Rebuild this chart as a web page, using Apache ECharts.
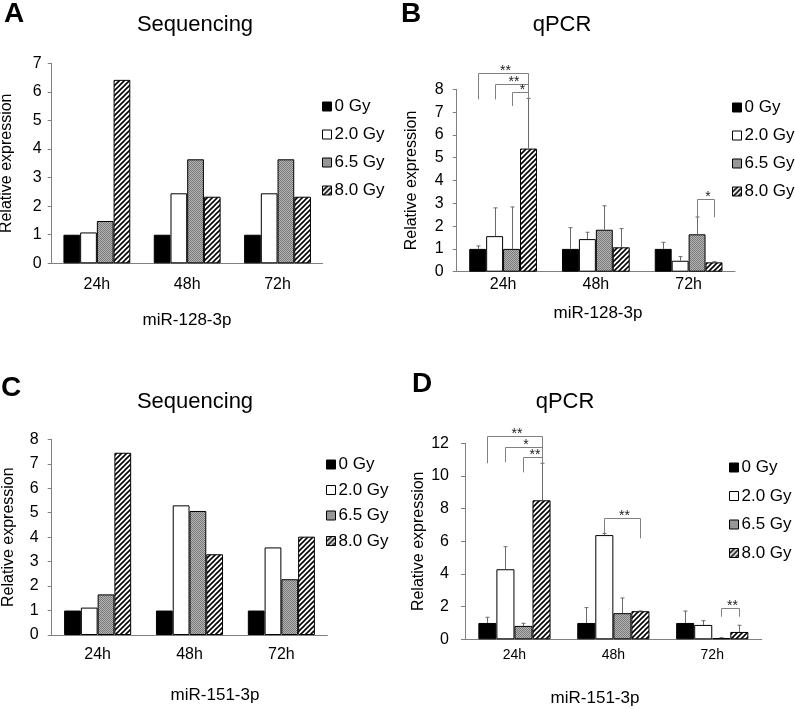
<!DOCTYPE html>
<html><head><meta charset="utf-8">
<script src="https://cdn.jsdelivr.net/npm/echarts@6/dist/echarts.min.js"></script>
<style>html,body{margin:0;padding:0;background:#fff}#c{width:795px;height:709px}</style>
</head><body><div id="c"></div>
<script>
// ---------- DATA ----------
const categories = ['24h', '48h', '72h'];
const doseNames = ['0 Gy', '2.0 Gy', '6.5 Gy', '8.0 Gy'];

// A: Sequencing, miR-128-3p
const seqA_0Gy  = [1.00, 1.00, 1.00];
const seqA_2Gy  = [1.08, 2.45, 2.45];
const seqA_65Gy = [1.48, 3.64, 3.64];
const seqA_8Gy  = [6.42, 2.33, 2.33];

// B: qPCR, miR-128-3p (mean, upper SD)
const qpcrB_0Gy  = [1.00, 1.00, 1.00];
const qpcrB_2Gy  = [1.56, 1.43, 0.48];
const qpcrB_65Gy = [1.00, 1.84, 1.64];
const qpcrB_8Gy  = [5.40, 1.07, 0.41];
const sdB_0Gy  = [0.13, 0.93, 0.29];
const sdB_2Gy  = [1.24, 0.30, 0.18];
const sdB_65Gy = [1.84, 1.05, 0.76];
const sdB_8Gy  = [2.20, 0.82, 0.03];
// significance: [category, fromDose, toDose, level, leftLegEnd, rightLegEnd, stars]
const sigB = [
  [0, 0, 3, 8.70, 7.56, 7.60, 2],
  [0, 1, 3, 8.23, 7.56, 7.60, 2],
  [0, 2, 3, 7.87, 7.27, 7.60, 1],
  [2, 2, 3, 3.19, 2.39, 2.39, 1]
];

// C: Sequencing, miR-151-3p
const seqC_0Gy  = [1.00, 1.00, 1.00];
const seqC_2Gy  = [1.12, 5.30, 3.58];
const seqC_65Gy = [1.66, 5.07, 2.28];
const seqC_8Gy  = [7.45, 3.30, 4.02];

// D: qPCR, miR-151-3p
const qpcrD_0Gy  = [1.00, 1.00, 1.00];
const qpcrD_2Gy  = [4.29, 6.38, 0.88];
const qpcrD_65Gy = [0.82, 1.60, 0.08];
const qpcrD_8Gy  = [8.51, 1.72, 0.45];
const sdD_0Gy  = [0.35, 0.94, 0.73];
const sdD_2Gy  = [1.38, 0.10, 0.26];
const sdD_65Gy = [0.16, 0.93, 0.02];
const sdD_8Gy  = [2.27, 0.02, 0.41];
const sigD = [
  [0, 0, 3, 12.45, 10.78, 10.78, 2],
  [0, 1, 3, 11.76, 10.84, 10.78, 1],
  [0, 2, 3, 11.14, 10.22, 10.78, 2],
  [1, 1, 3, 7.45, 6.49, 6.18, 2],
  [2, 2, 3, 1.90, 1.38, 1.38, 2]
];

const yTicksA = {max: 7, interval: 1};
const yTicksB = {max: 8, interval: 1};
const yTicksC = {max: 8, interval: 1};
const yTicksD = {max: 12, interval: 2};

// ---------- STYLE ----------
const FONT = 'Liberation Sans, Arial, Helvetica, sans-serif';
const AXIS_COLOR = '#808080';

function makeHatch() {
  const c = document.createElement('canvas');
  c.width = 5; c.height = 5;
  const g = c.getContext('2d');
  g.fillStyle = '#fff'; g.fillRect(0, 0, 5, 5);
  g.strokeStyle = '#000'; g.lineWidth = 1.6;
  g.beginPath();
  g.moveTo(-1, 1); g.lineTo(1, -1);
  g.moveTo(0, 5); g.lineTo(5, 0);
  g.moveTo(4, 6); g.lineTo(6, 4);
  g.stroke();
  return c;
}
function makeGray() {
  const c = document.createElement('canvas');
  c.width = 2; c.height = 2;
  const g = c.getContext('2d');
  g.fillStyle = '#b2b2b2'; g.fillRect(0, 0, 2, 2);
  g.fillStyle = '#7c7c7c'; g.fillRect(0, 0, 1, 1); g.fillRect(1, 1, 1, 1);
  return c;
}
const doseStyles = [
  {color: '#000000', borderColor: '#000', borderWidth: 1},
  {color: '#ffffff', borderColor: '#000', borderWidth: 1},
  {color: {image: makeGray(), repeat: 'repeat'}, borderColor: '#000', borderWidth: 1},
  {color: {image: makeHatch(), repeat: 'repeat'}, borderColor: '#000', borderWidth: 1}
];

const panels = [
  {grid: {left: 51.7, top: 63.3, width: 271, height: 200}, yt: yTicksA, gap: 0.26, xMargin: 13, xFont: 16, yMargin: 10, nameGap: 37,
   values: [seqA_0Gy, seqA_2Gy, seqA_65Gy, seqA_8Gy]},
  {grid: {left: 456.7, top: 89.3, width: 278.3, height: 182.4}, yt: yTicksB, gap: 0.27, xMargin: 5, xFont: 16, yMargin: 13, nameGap: 37,
   values: [qpcrB_0Gy, qpcrB_2Gy, qpcrB_65Gy, qpcrB_8Gy], sd: [sdB_0Gy, sdB_2Gy, sdB_65Gy, sdB_8Gy], sig: sigB},
  {grid: {left: 51.7, top: 439.3, width: 275.6, height: 195.7}, yt: yTicksC, gap: 0.27, xMargin: 12, xFont: 16, yMargin: 13, nameGap: 35,
   values: [seqC_0Gy, seqC_2Gy, seqC_65Gy, seqC_8Gy]},
  {grid: {left: 465, top: 443.3, width: 296.7, height: 196}, yt: yTicksD, gap: 0.27, xMargin: 9, xFont: 14, yMargin: 16, nameGap: 38,
   values: [qpcrD_0Gy, qpcrD_2Gy, qpcrD_65Gy, qpcrD_8Gy], sd: [sdD_0Gy, sdD_2Gy, sdD_65Gy, sdD_8Gy], sig: sigD}
];

function errRender(gapFrac) {
  return function (params, api) {
    const cat = api.value(0), si = api.value(1), mean = api.value(2), top = api.value(3);
    const band = api.size([1, 0])[0];
    const bw = band * (1 - gapFrac) / 4;
    const base = api.coord([cat, mean]);
    const tp = api.coord([cat, top]);
    const x = Math.round(base[0] + (si - 1.5) * bw) + 0.5;
    return {type: 'group', children: [
      {type: 'line', shape: {x1: x, y1: base[1], x2: x, y2: tp[1]}, style: {stroke: '#6a6a6a', lineWidth: 1}},
      {type: 'line', shape: {x1: x - 2, y1: tp[1], x2: x + 2, y2: tp[1]}, style: {stroke: '#6a6a6a', lineWidth: 1}}
    ]};
  };
}
function sigRender(gapFrac) {
  return function (params, api) {
    const cat = api.value(0), a = api.value(1), b = api.value(2), lvl = api.value(3);
    const lb = api.value(4), rb = api.value(5), n = api.value(6);
    const band = api.size([1, 0])[0];
    const bw = band * (1 - gapFrac) / 4;
    const c = api.coord([cat, lvl]);
    const xa = Math.round(c[0] + (a - 1.5) * bw) + 0.5, xb = Math.round(c[0] + (b - 1.5) * bw) + 0.5;
    const yl = Math.round(c[1]) + 0.5;
    const ya = api.coord([cat, lb])[1], yb = api.coord([cat, rb])[1];
    return {type: 'group', children: [
      {type: 'polyline', shape: {points: [[xa, ya], [xa, yl], [xb, yl], [xb, yb]]},
       style: {stroke: '#808080', fill: null, lineWidth: 1}},
      {type: 'text', x: (xa + xb) / 2 + 2, y: yl + 5,
       style: {text: '*'.repeat(n), font: '14px ' + FONT, fill: '#222', align: 'center', verticalAlign: 'bottom'}}
    ]};
  };
}

const grid = [], xAxis = [], yAxis = [], series = [], legend = [];
panels.forEach((p, i) => {
  grid.push(Object.assign({outerBoundsMode: 'none', containLabel: false}, p.grid));
  xAxis.push({
    type: 'category', gridIndex: i, data: categories,
    axisLine: {lineStyle: {color: AXIS_COLOR, width: 1}},
    axisTick: {inside: true, length: 5, lineStyle: {color: AXIS_COLOR}},
    axisLabel: {color: '#000', fontSize: p.xFont, fontFamily: FONT, margin: p.xMargin}
  });
  yAxis.push({
    type: 'value', gridIndex: i, min: 0, max: p.yt.max, interval: p.yt.interval,
    name: 'Relative expression', nameLocation: 'middle', nameGap: p.nameGap,
    nameTextStyle: {color: '#000', fontSize: 16, fontFamily: FONT},
    axisLine: {show: true, lineStyle: {color: AXIS_COLOR, width: 1}},
    axisTick: {show: true, length: 4, lineStyle: {color: AXIS_COLOR}},
    splitLine: {show: false},
    axisLabel: {color: '#000', fontSize: 16, fontFamily: FONT, margin: p.yMargin}
  });
  p.values.forEach((vals, k) => {
    series.push({
      type: 'bar', name: doseNames[k], xAxisIndex: i, yAxisIndex: i,
      data: vals, barGap: '0%', barCategoryGap: (p.gap * 100) + '%',
      itemStyle: doseStyles[k], emphasis: {disabled: true}, animation: false
    });
  });
  if (p.sd) {
    const errData = [];
    p.values.forEach((vals, k) => vals.forEach((v, c) => errData.push([c, k, v, v + p.sd[k][c]])));
    series.push({type: 'custom', xAxisIndex: i, yAxisIndex: i, data: errData,
      encode: {x: 0, y: 3}, renderItem: errRender(p.gap), clip: false, z: 5, animation: false, silent: true});
    series.push({type: 'custom', xAxisIndex: i, yAxisIndex: i, data: p.sig,
      encode: {x: 0, y: 3}, renderItem: sigRender(p.gap), clip: false, z: 6, animation: false, silent: true});
  }
});

const legendPos = [
  {left: 322, top: 98, gap: 11},
  {left: 732, top: 99, gap: 11},
  {left: 326, top: 456, gap: 8.5},
  {left: 729, top: 459, gap: 11.5}
];
legendPos.forEach(l => legend.push({
  orient: 'vertical', left: l.left, top: l.top, itemGap: l.gap, padding: 0,
  itemWidth: 9, itemHeight: 9, icon: 'rect', data: doseNames, selectedMode: false,
  itemStyle: {borderWidth: 1, borderColor: '#000'},
  textStyle: {color: '#000', fontSize: 17, fontFamily: FONT, padding: [0, 0, 0, -2]}
}));

function txt(x, y, text, size, bold) {
  return {type: 'text', x: x, y: y, silent: true,
    style: {text: text, font: (bold ? 'bold ' : '') + size + 'px ' + FONT, fill: '#000', align: 'center', verticalAlign: 'middle'}};
}
const graphic = [
  txt(14, 14, 'A', 28, true), txt(411, 14, 'B', 28, true),
  txt(11, 388, 'C', 28, true), txt(422, 384, 'D', 28, true),
  txt(195, 25, 'Sequencing', 22), txt(562, 25, 'qPCR', 22),
  txt(195, 402, 'Sequencing', 22), txt(565, 402, 'qPCR', 22),
  txt(187, 320, 'miR-128-3p', 17), txt(598, 313, 'miR-128-3p', 17),
  txt(215, 695, 'miR-151-3p', 17), txt(595, 698, 'miR-151-3p', 17)
];

const chart = echarts.init(document.getElementById('c'), null, {renderer: 'canvas'});
chart.setOption({
  animation: false, backgroundColor: '#fff',
  grid: grid, xAxis: xAxis, yAxis: yAxis, series: series, legend: legend, graphic: graphic
});
</script></body></html>
